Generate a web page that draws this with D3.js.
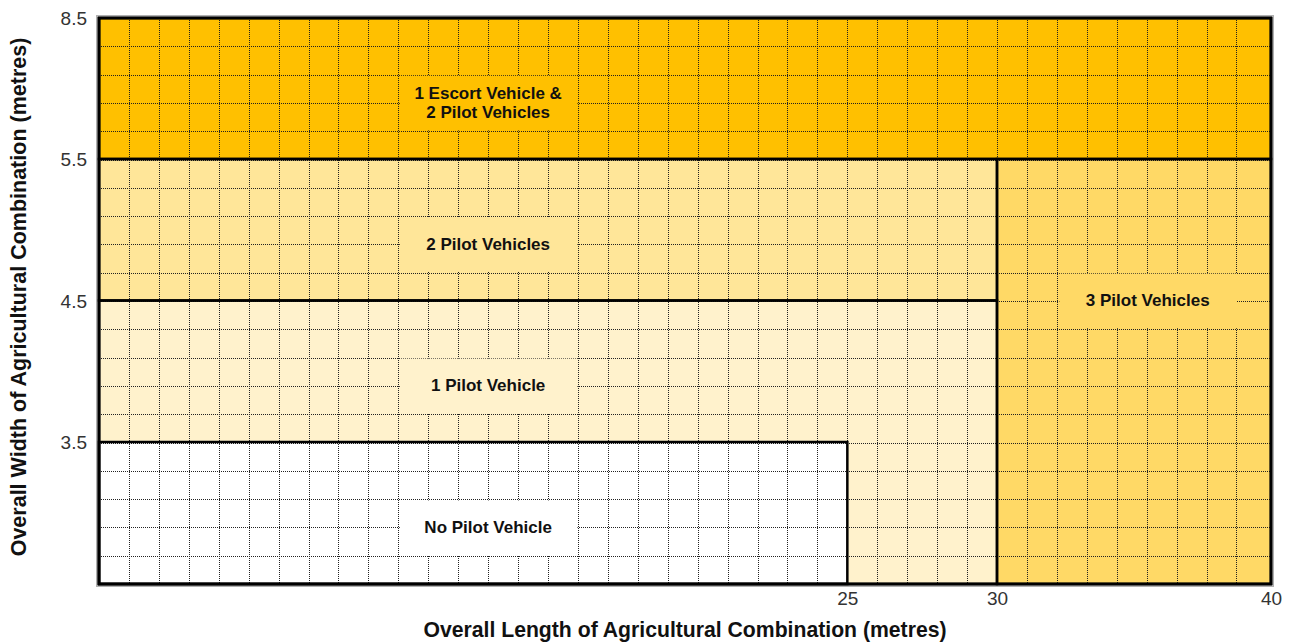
<!DOCTYPE html>
<html>
<head>
<meta charset="utf-8">
<script src="https://cdn.jsdelivr.net/npm/d3@7"></script>
<style>
body{margin:0;background:#fff;}
text{font-family:"Liberation Sans",Arial,sans-serif;}
</style>
</head>
<body>
<div class="chart"></div>
<script>
var xTicks = [25, 30, 40];
var yTicks = [3.5, 4.5, 5.5, 8.5];
var zoneNames = ["1 Escort Vehicle & 2 Pilot Vehicles", "2 Pilot Vehicles", "3 Pilot Vehicles", "1 Pilot Vehicle", "No Pilot Vehicle"];
var zoneLines = [["1 Escort Vehicle &", "2 Pilot Vehicles"], ["2 Pilot Vehicles"], ["3 Pilot Vehicles"], ["1 Pilot Vehicle"], ["No Pilot Vehicle"]];
var zoneLength = [[0, 40], [0, 30], [30, 40], [0, 30], [0, 25]];
var zoneWidth = [[5.5, 8.5], [4.5, 5.5], [2.5, 5.5], [2.5, 4.5], [2.5, 3.5]];
var labelAt = [[13, 6.7], [13, 4.9], [35.5, 4.5], [13, 3.9], [13, 2.9]];

var w = 1303;
var h = 644;

// length axis is squeezed after 30 m, width axis is stretched per band
var x = d3.scaleLinear()
          .domain([0, 30, 40])
          .range([99, 997, 1271]);
var y = d3.scaleLinear()
          .domain([2.5, 3.5, 4.5, 5.5, 8.5])
          .range([584, 442, 300.5, 159, 18]);
// even grid cells over the plot
var gx = d3.scaleLinear()
           .domain([0, 30])
           .range([x(0), x(30)]);
var gy = d3.scaleLinear()
           .domain([0, 20])
           .range([y(8.5), y(2.5)]);
var colorscale = d3.scaleOrdinal()
                   .domain(zoneNames)
                   .range(["#FFC000", "#FFE699", "#FFD966", "#FFF2CC", "#FFFFFF"]);

var zones = zoneNames.map(function(n, i){
  return {name: n, lines: zoneLines[i], len: zoneLength[i], wid: zoneWidth[i], at: labelAt[i]};
});

var svg = d3.select(".chart")
            .append("svg")
            .attr("width", w)
            .attr("height", h);

// zone fills
svg.append("g")
   .selectAll("rect")
   .data(zones)
   .enter()
   .append("rect")
   .attr("x", function(d){ return x(d.len[0]); })
   .attr("y", function(d){ return y(d.wid[1]); })
   .attr("width", function(d){ return x(d.len[1]) - x(d.len[0]); })
   .attr("height", function(d){ return y(d.wid[0]) - y(d.wid[1]); })
   .attr("fill", function(d){ return colorscale(d.name); });

// dotted grid
var grid = svg.append("g")
              .attr("stroke", "#222")
              .attr("stroke-width", 1)
              .attr("stroke-dasharray", "1,1");
grid.selectAll("line.v")
    .data(d3.range(1, 39))
    .enter()
    .append("line")
    .attr("class", "v")
    .attr("x1", function(d){ return Math.round(gx(d)) + 0.5; })
    .attr("x2", function(d){ return Math.round(gx(d)) + 0.5; })
    .attr("y1", y(8.5))
    .attr("y2", y(2.5));
grid.selectAll("line.h")
    .data(d3.range(1, 20))
    .enter()
    .append("line")
    .attr("class", "h")
    .attr("x1", x(0))
    .attr("x2", x(40))
    .attr("y1", function(d){ return Math.round(gy(d)) + 0.5; })
    .attr("y2", function(d){ return Math.round(gy(d)) + 0.5; });

// label boxes hide the grid behind text
var boxW = gx(6) - gx(0);
var boxH = gy(2) - gy(0);
var labels = svg.append("g")
                .selectAll("g")
                .data(zones)
                .enter()
                .append("g")
                .attr("transform", function(d){
                  return "translate(" + x(d.at[0]) + "," + y(d.at[1]) + ")";
                });
labels.append("rect")
      .attr("x", -boxW / 2 + 1.5)
      .attr("y", -boxH / 2 + 1.5)
      .attr("width", boxW - 2)
      .attr("height", boxH - 2)
      .attr("fill", function(d){ return colorscale(d.name); });
labels.append("text")
      .attr("text-anchor", "middle")
      .attr("font-size", 17)
      .attr("font-weight", "bold")
      .attr("fill", "#111")
      .selectAll("tspan")
      .data(function(d){
        return d.lines.map(function(t, i){ return {t: t, i: i, n: d.lines.length}; });
      })
      .enter()
      .append("tspan")
      .attr("x", 0)
      .attr("y", function(d){ return (d.i - (d.n - 1) / 2) * 19; })
      .attr("dy", "0.35em")
      .text(function(d){ return d.t; });

// zone borders
svg.append("g")
   .selectAll("rect")
   .data(zones)
   .enter()
   .append("rect")
   .attr("x", function(d){ return x(d.len[0]); })
   .attr("y", function(d){ return y(d.wid[1]); })
   .attr("width", function(d){ return x(d.len[1]) - x(d.len[0]); })
   .attr("height", function(d){ return y(d.wid[0]) - y(d.wid[1]); })
   .attr("fill", "none")
   .attr("stroke", "#000")
   .attr("stroke-width", 2.5);

// outer frame
svg.append("rect")
   .attr("x", x(0) - 2.5)
   .attr("y", y(8.5) - 2.5)
   .attr("width", x(40) - x(0) + 5)
   .attr("height", y(2.5) - y(8.5) + 5)
   .attr("fill", "none")
   .attr("stroke", "#b0b0b0")
   .attr("stroke-width", 1);
svg.append("rect")
   .attr("x", x(0))
   .attr("y", y(8.5))
   .attr("width", x(40) - x(0))
   .attr("height", y(2.5) - y(8.5))
   .attr("fill", "none")
   .attr("stroke", "#000")
   .attr("stroke-width", 3);

// axes
var xAxis = d3.axisBottom()
              .scale(x)
              .tickValues(xTicks)
              .tickSize(0)
              .tickPadding(8);
var yAxis = d3.axisLeft()
              .scale(y)
              .tickValues(yTicks)
              .tickSize(0)
              .tickPadding(12);
var gxAxis = svg.append("g")
                .attr("transform", "translate(0," + y(2.5) + ")")
                .call(xAxis);
var gyAxis = svg.append("g")
                .attr("transform", "translate(" + x(0) + ",0)")
                .call(yAxis);
[gxAxis, gyAxis].forEach(function(g){
  g.select(".domain").remove();
  g.attr("font-family", null).attr("font-size", null);
  g.selectAll("text")
   .attr("font-size", 19)
   .attr("fill", "#333");
});
gyAxis.selectAll("text").attr("dy", "0.36em");

// titles
svg.append("text")
   .attr("x", (x(0) + x(40)) / 2)
   .attr("y", 637)
   .attr("text-anchor", "middle")
   .attr("font-size", 21.2)
   .attr("font-weight", "bold")
   .attr("fill", "#111")
   .text("Overall Length of Agricultural Combination (metres)");
svg.append("text")
   .attr("transform", "translate(26," + ((y(2.5) + y(8.5)) / 2 - 4) + ") rotate(-90)")
   .attr("text-anchor", "middle")
   .attr("font-size", 21.5)
   .attr("font-weight", "bold")
   .attr("fill", "#111")
   .text("Overall Width of Agricultural Combination (metres)");
</script>
</body>
</html>
